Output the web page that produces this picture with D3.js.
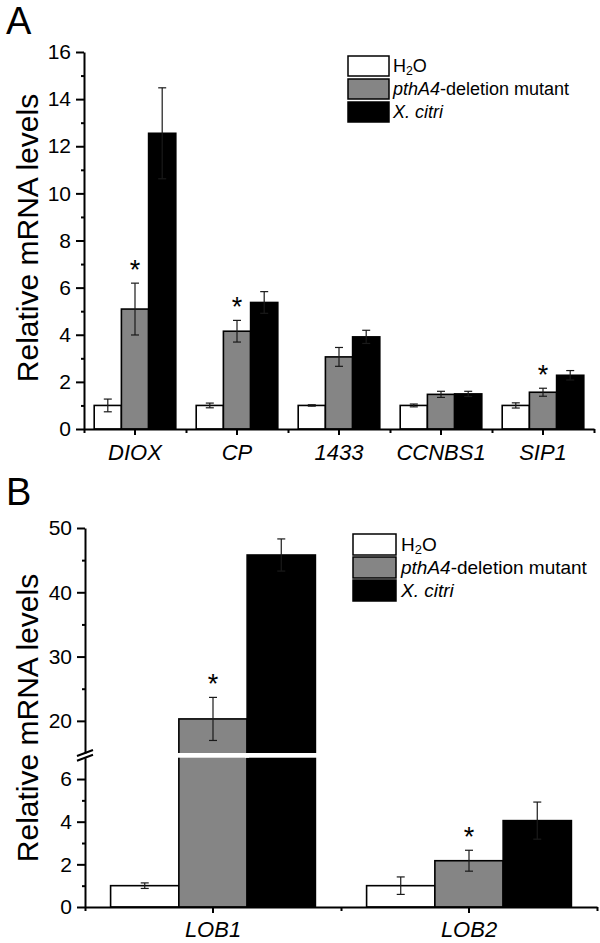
<!DOCTYPE html>
<html><head><meta charset="utf-8">
<script src="https://cdn.jsdelivr.net/npm/d3@7"></script>
<style>
body{margin:0;background:#fff}
svg{display:block}
text{font-family:"Liberation Sans",Arial,Helvetica,sans-serif;fill:#000}
</style>
</head><body>
<svg id="c" width="600" height="943"></svg>
<script>
// ---------- data ----------
const series = ["H2O", "pthA4", "Xcitri"];
const legendLabels = [
  [["H", "n"], ["2", "sub"], ["O", "n"]],
  [["pthA4", "i"], ["-deletion mutant", "n"]],
  [["X. citri", "i"]]
];

const catsA = ["DIOX", "CP", "1433", "CCNBS1", "SIP1"];
const h2oA = [1.0, 1.0, 1.0, 1.0, 1.0];
const h2oErrA = [0.27, 0.10, 0.03, 0.06, 0.11];
const mutA = [5.09, 4.15, 3.06, 1.47, 1.56];
const mutErrA = [1.10, 0.46, 0.40, 0.13, 0.17];
const xcA = [12.55, 5.37, 3.91, 1.49, 2.28];
const xcErrA = [1.93, 0.46, 0.28, 0.11, 0.20];
const starsA = ["DIOX", "CP", "SIP1"];
const ticksA = [0, 2, 4, 6, 8, 10, 12, 14, 16];
const minorTicksA = [1, 3, 5, 7, 9, 11, 13, 15];

const catsB = ["LOB1", "LOB2"];
const h2oB = [1.0, 1.0];
const h2oErrB = [0.13, 0.41];
const mutB = [20.3, 2.17];
const mutErrB = [3.35, 0.49];
const xcB = [45.8, 4.05];
const xcErrB = [2.5, 0.87];
const starsB = ["LOB1", "LOB2"];
const ticksBLow = [0, 2, 4, 6];
const minorTicksBLow = [1, 3, 5];
const ticksBHigh = [20, 30, 40, 50];
const minorTicksBHigh = [25, 35, 45];
const breakB = [7, 15];

// ---------- styles ----------
const fills = {H2O: "#ffffff", pthA4: "#858585", Xcitri: "#000000"};

const svg = d3.select("#c");
const fmt = d3.format("d");

function styleAxis(g, w, fs) {
  g.selectAll("path.domain").attr("stroke", "#000").attr("stroke-width", w);
  g.selectAll(".tick line").attr("stroke", "#000").attr("stroke-width", 2);
  g.selectAll("text").attr("font-size", fs || 21).attr("fill", "#000")
    .attr("font-family", '"Liberation Sans",Arial,sans-serif');
}

function buildRows(cats, h, he, m, me, x, xe) {
  return cats.map((c, i) => ({
    cat: c,
    vals: [
      {s: "H2O", v: h[i], e: he[i]},
      {s: "pthA4", v: m[i], e: me[i]},
      {s: "Xcitri", v: x[i], e: xe[i]}
    ]
  }));
}

function drawLegend(g, x0, y0, bw, bh, step, fs, tx) {
  series.forEach((s, i) => {
    g.append("rect").attr("x", x0).attr("y", y0 + i * step)
      .attr("width", bw).attr("height", bh)
      .attr("fill", fills[s]).attr("stroke", "#000").attr("stroke-width", 1.5);
    const t = g.append("text").attr("x", tx).attr("y", y0 + i * step + bh / 2 + fs * 0.36)
      .attr("font-size", fs);
    legendLabels[i].forEach(([str, kind]) => {
      const sp = t.append("tspan").text(str);
      if (kind === "i") sp.attr("font-style", "italic");
      if (kind === "sub") sp.attr("font-size", fs * 0.68).attr("dy", fs * 0.16);
      else if (kind === "n" && str === "O") sp.attr("dy", -fs * 0.16);
    });
  });
}

function drawBars(g, rows, x, xs, y) {
  rows.forEach(r => {
    r.vals.forEach(d => {
      const bx = x(r.cat) + xs(d.s);
      g.append("rect").attr("x", bx).attr("width", xs.bandwidth())
        .attr("y", y(d.v)).attr("height", y(0) - y(d.v))
        .attr("fill", fills[d.s]).attr("stroke", "#000").attr("stroke-width", 1.6);
    });
  });
}

function drawErr(g, rows, x, xs, y, starCats) {
  rows.forEach(r => {
    r.vals.forEach(d => {
      const cx = x(r.cat) + xs(d.s) + xs.bandwidth() / 2;
      const y1 = y(d.v + d.e), y2 = y(d.v - d.e);
      const col = "#1a1a1a";
      g.append("line").attr("x1", cx).attr("x2", cx).attr("y1", y1).attr("y2", y2)
        .attr("stroke", col).attr("stroke-width", 1.2);
      [y1, y2].forEach(yy => g.append("line").attr("x1", cx - 4).attr("x2", cx + 4)
        .attr("y1", yy).attr("y2", yy).attr("stroke", col).attr("stroke-width", 1.2));
      if (d.s === "pthA4" && starCats.includes(r.cat)) {
        g.append("text").attr("x", cx).attr("y", y1 - 4.5).attr("text-anchor", "middle")
          .attr("font-size", 27).text("*");
      }
    });
  });
}

// ================= Panel A =================
const gA = svg.append("g");
const yA = d3.scaleLinear().domain([0, 16]).range([429, 52]);
const xA = d3.scaleBand().domain(catsA).range([84, 594]).paddingInner(0.2).paddingOuter(0.1);
const xsA = d3.scaleBand().domain(series).range([0, xA.bandwidth()]).padding(0);
const rowsA = buildRows(catsA, h2oA, h2oErrA, mutA, mutErrA, xcA, xcErrA);

drawBars(gA, rowsA, xA, xsA, yA);
drawErr(gA, rowsA, xA, xsA, yA, starsA);

const ayA = gA.append("g").attr("transform", "translate(84,0)")
  .call(d3.axisLeft(yA).tickValues(ticksA).tickFormat(fmt).tickSize(8).tickPadding(5).tickSizeOuter(0));
styleAxis(ayA, 2);
const ayAm = gA.append("g").attr("transform", "translate(84,0)")
  .call(d3.axisLeft(yA).tickValues(minorTicksA).tickSize(3).tickFormat("").tickSizeOuter(0));
styleAxis(ayAm, 2);
ayAm.select("path.domain").remove();

const axA = gA.append("g").attr("transform", "translate(0,429)")
  .call(d3.axisBottom(xA).tickSize(6).tickSizeOuter(0));
styleAxis(axA, 2, 22);
axA.selectAll("text").attr("dy", null).attr("y", 31).attr("font-style", "italic");
const xAm = d3.scaleLinear().domain([0, catsA.length]).range([84, 594]);
const axAm = gA.append("g").attr("transform", "translate(0,429)")
  .call(d3.axisBottom(xAm).tickValues(d3.range(0, catsA.length + 1)).tickSize(4).tickFormat("").tickSizeOuter(0));
styleAxis(axAm, 2);
axAm.select("path.domain").remove();

gA.append("text").attr("transform", "translate(38,238) rotate(-90)").attr("text-anchor", "middle")
  .attr("font-size", 30).text("Relative mRNA levels");
gA.append("text").attr("x", 6).attr("y", 34).attr("font-size", 38).text("A");
drawLegend(gA, 348, 56, 41, 20, 23, 18, 393);

// ================= Panel B =================
const gB = svg.append("g");
const yBL = d3.scaleLinear().domain([0, breakB[0]]).range([907, 757.7]);
const yBH = d3.scaleLinear().domain([breakB[1], 50]).range([753, 528]);
const yB = v => (v <= breakB[0] ? yBL(v) : yBH(v));
const xB = d3.scaleBand().domain(catsB).range([85, 597]).paddingInner(0.2).paddingOuter(0.1);
const xsB = d3.scaleBand().domain(series).range([0, xB.bandwidth()]).padding(0);
const rowsB = buildRows(catsB, h2oB, h2oErrB, mutB, mutErrB, xcB, xcErrB);

drawBars(gB, rowsB, xB, xsB, yB);
rowsB.forEach(r => r.vals.forEach(d => {
  if (d.v > breakB[0]) {
    gB.append("rect").attr("x", xB(r.cat) + xsB(d.s) - 2).attr("width", xsB.bandwidth() + 4)
      .attr("y", yBH(breakB[1])).attr("height", yBL(breakB[0]) - yBH(breakB[1]))
      .attr("fill", "#fff");
  }
}));
drawErr(gB, rowsB, xB, xsB, yB, starsB);

[[yBH, ticksBHigh, minorTicksBHigh], [yBL, ticksBLow, minorTicksBLow]].forEach(([sc, mj, mn]) => {
  const a = gB.append("g").attr("transform", "translate(85,0)")
    .call(d3.axisLeft(sc).tickValues(mj).tickFormat(fmt).tickSize(8).tickPadding(5).tickSizeOuter(0));
  styleAxis(a, 2);
  const b = gB.append("g").attr("transform", "translate(85,0)")
    .call(d3.axisLeft(sc).tickValues(mn).tickSize(3).tickFormat("").tickSizeOuter(0));
  styleAxis(b, 2);
  b.select("path.domain").remove();
});
[yBH(breakB[1]), yBL(breakB[0])].forEach(yy => {
  gB.append("line").attr("x1", 85 - 8).attr("y1", yy + 3).attr("x2", 85 + 8).attr("y2", yy - 3)
    .attr("stroke", "#000").attr("stroke-width", 2);
});

const axB = gB.append("g").attr("transform", "translate(0,907)")
  .call(d3.axisBottom(xB).tickSize(6).tickSizeOuter(0));
styleAxis(axB, 2, 22);
axB.selectAll("text").attr("dy", null).attr("y", 30).attr("font-style", "italic");
const xBm = d3.scaleLinear().domain([0, catsB.length]).range([85, 597]);
const axBm = gB.append("g").attr("transform", "translate(0,907)")
  .call(d3.axisBottom(xBm).tickValues(d3.range(0, catsB.length + 1)).tickSize(4).tickFormat("").tickSizeOuter(0));
styleAxis(axBm, 2);
axBm.select("path.domain").remove();

gB.append("text").attr("transform", "translate(38,718) rotate(-90)").attr("text-anchor", "middle")
  .attr("font-size", 30).text("Relative mRNA levels");
gB.append("text").attr("x", 6).attr("y", 505).attr("font-size", 38).text("B");
drawLegend(gB, 353, 534, 43, 21, 23, 19, 401);
</script>
</body></html>
